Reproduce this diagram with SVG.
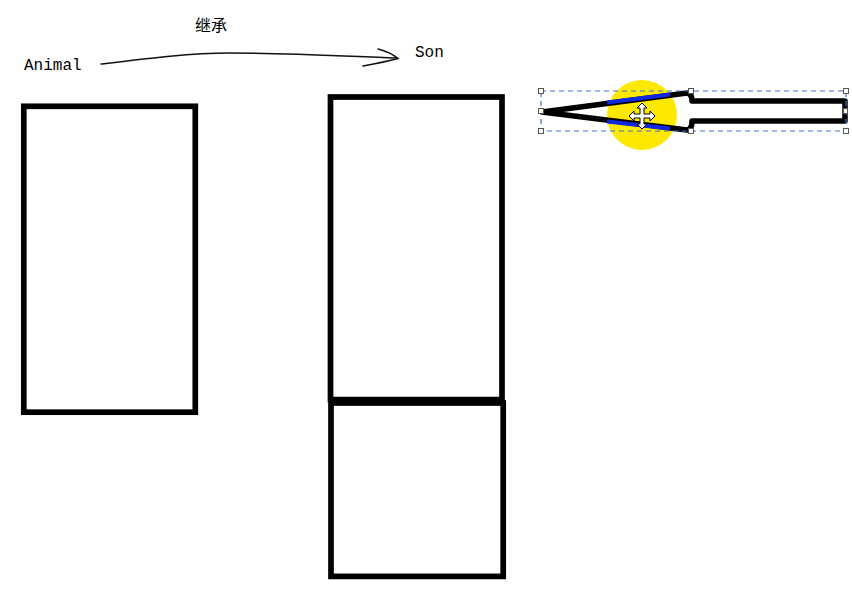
<svg xmlns="http://www.w3.org/2000/svg" width="852" height="592" viewBox="0 0 852 592">
<style>
.box{fill:none;stroke:#000;stroke-width:5.7}
.lbl{font-family:"Liberation Mono","DejaVu Sans Mono",monospace;font-size:16px;fill:#000}
.cjk{font-family:"Noto Sans CJK SC","Liberation Sans",sans-serif;font-size:16px;fill:#000}
.conn{fill:none;stroke:#111;stroke-width:1.5;stroke-linecap:round}
.handle{fill:#fff;stroke:#555;stroke-width:1}
</style>
<rect width="852" height="592" fill="#fff"/>
<g id="connectors">
<path class="conn" d="M101,64 C150,58 190,53 230,53 C290,53 340,56 397,58"/>
<path class="conn" d="M378,49 Q390,52 398,58.5 Q385,62 363,66"/>
</g>
<g id="label-inherit"><text class="cjk" x="195" y="31">继承</text></g>
<g id="animal-label"><text class="lbl" x="24" y="70">Animal</text></g>
<g id="son-label"><text class="lbl" x="415" y="57">Son</text></g>
<g id="animal-box"><rect class="box" x="23.8" y="106.3" width="171.5" height="305.9"/></g>
<g id="son-upper"><rect class="box" x="330.5" y="97" width="171.5" height="302.6"/></g>
<g id="son-lower"><rect class="box" x="331" y="403" width="172.2" height="173.4"/></g>
<g id="block-arrow">
<circle cx="642" cy="115" r="35" fill="#FCE800"/>
<path d="M542,112 L687,93 Q692,94 692,101 L845,101 L845,121 L692,121 Q692,129 687,130 Z" fill="none" stroke="#000" stroke-width="5.5" stroke-linejoin="round"/>
<path d="M607,102.5 L670,94.5 M607,121.5 L670,128.5" stroke="#1028e0" stroke-width="4" fill="none"/>
<rect x="541" y="91" width="305" height="40" fill="none" stroke="#3f72bd" stroke-width="1.2" stroke-dasharray="5,4"/>
<rect class="handle" x="538.5" y="88.5" width="5" height="5"/>
<rect class="handle" x="538.5" y="108.5" width="5" height="5"/>
<rect class="handle" x="538.5" y="128.5" width="5" height="5"/>
<rect class="handle" x="688.5" y="88.5" width="5" height="5"/>
<rect class="handle" x="688.5" y="128.5" width="5" height="5"/>
<rect class="handle" x="843.5" y="88.5" width="5" height="5"/>
<rect class="handle" x="843.5" y="128.5" width="5" height="5"/>
<rect class="handle" x="843.5" y="108.5" width="4" height="5"/>
<path d="M642,103 L647,108 L644,108 L644,114 L650,114 L650,111 L655,116 L650,121 L650,118 L644,118 L644,124 L647,124 L642,129 L637,124 L640,124 L640,118 L634,118 L634,121 L629,116 L634,111 L634,114 L640,114 L640,108 L637,108 Z" fill="#fff" stroke="#000" stroke-width="1"/>
</g>
</svg>
